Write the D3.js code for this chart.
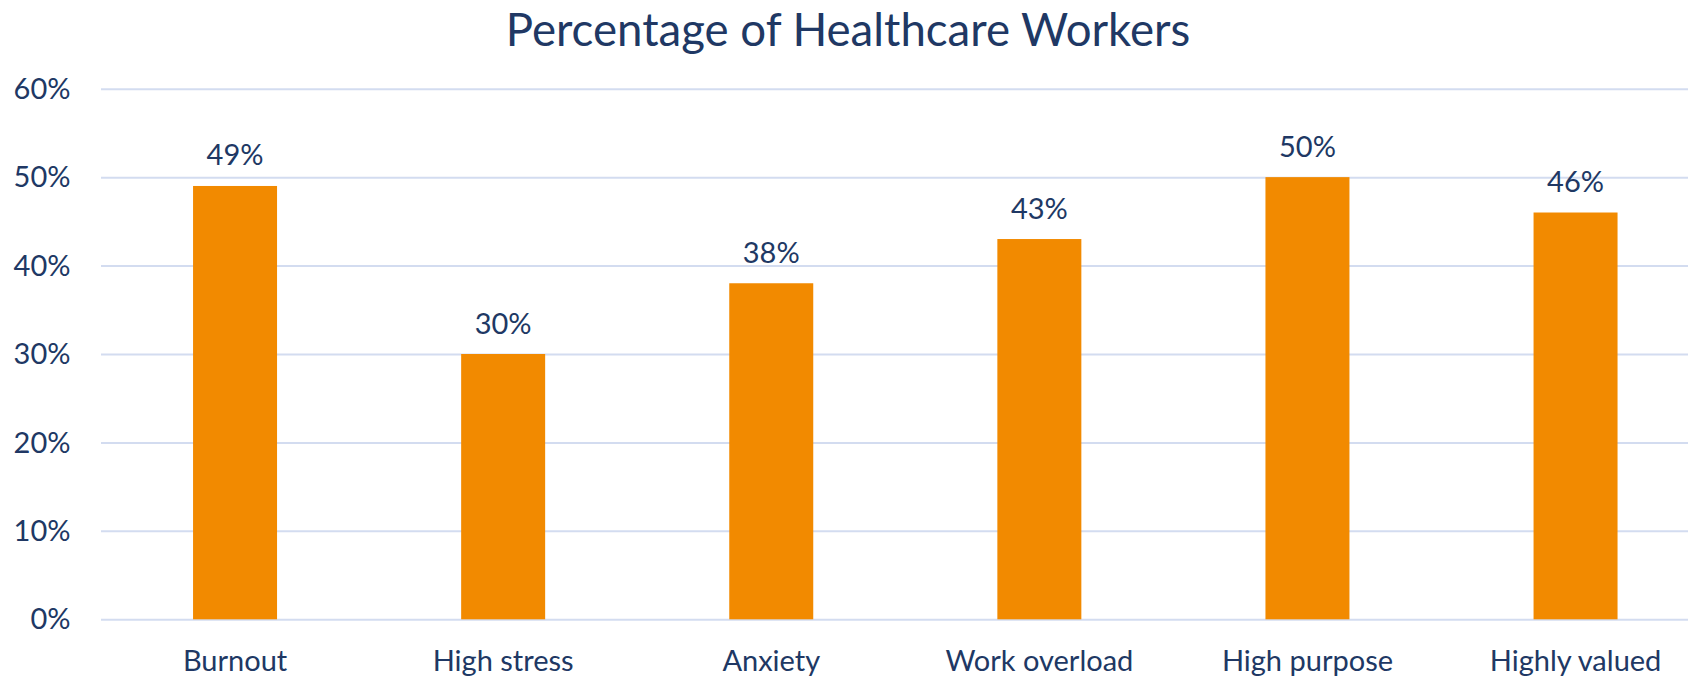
<!DOCTYPE html>
<html>
<head>
<meta charset="utf-8">
<script src="https://cdn.jsdelivr.net/npm/d3@7"></script>
<style>
  html, body { margin: 0; padding: 0; background: #ffffff; overflow: hidden; }
  svg { display: block; }
  text { font-family: Lato, "Open Sans", sans-serif; fill: #203864; }
</style>
</head>
<body>
<svg id="chart" width="1688" height="676"></svg>
<script>
// Share of healthcare workers reporting each item
const categories = ["Burnout", "High stress", "Anxiety", "Work overload", "High purpose", "Highly valued"];
const values = [49, 30, 38, 43, 50, 46];
const yTicks = [0, 10, 20, 30, 40, 50, 60];
const title = "Percentage of Healthcare Workers";

const svg = d3.select("#chart");

const plot = { left: 101, right: 1709.6, top: 88.7, bottom: 619.3 };

const x = d3.scaleBand()
  .domain(categories)
  .range([plot.left, plot.right])
  .paddingInner(0.6867)
  .paddingOuter(0.34335);

const y = d3.scaleLinear()
  .domain([0, 60])
  .range([plot.bottom, plot.top]);

// Title
svg.append("text")
  .attr("x", 848)
  .attr("y", 45.5)
  .attr("text-anchor", "middle")
  .style("font-size", "45.6px")
  .text(title);

// Horizontal gridlines with percentage tick labels
const yAxis = d3.axisLeft(y)
  .tickValues(yTicks)
  .tickSize(-(plot.right - plot.left))
  .tickPadding(30)
  .tickFormat(d => d + "%");

const gy = svg.append("g")
  .attr("transform", `translate(${plot.left},0)`)
  .call(yAxis);
gy.select(".domain").remove();
gy.selectAll(".tick line")
  .attr("stroke", "#D3DCF0")
  .attr("stroke-width", 2);
gy.selectAll(".tick text")
  .attr("x", -30.5)
  .attr("dy", "0.33em")
  .style("font-size", "29px")
  .style("fill", "#203864");

// Bars
svg.append("g")
  .selectAll("rect")
  .data(values)
  .join("rect")
  .attr("x", (d, i) => x(categories[i]))
  .attr("y", d => y(d))
  .attr("width", x.bandwidth())
  .attr("height", d => y(0) - y(d))
  .attr("fill", "#F28A00");

// Value labels above bars
svg.append("g")
  .selectAll("text")
  .data(values)
  .join("text")
  .attr("x", (d, i) => x(categories[i]) + x.bandwidth() / 2)
  .attr("y", d => y(d) - 20.5)
  .attr("text-anchor", "middle")
  .style("font-size", "29px")
  .text(d => d + "%");

// Category labels
const xAxis = d3.axisBottom(x).tickSize(0).tickPadding(0);
const gx = svg.append("g")
  .attr("transform", `translate(0,${plot.bottom})`)
  .call(xAxis);
gx.select(".domain").remove();
gx.selectAll(".tick text")
  .attr("y", 51.4)
  .attr("dy", 0)
  .style("font-size", "29px")
  .style("fill", "#203864");
</script>
</body>
</html>
